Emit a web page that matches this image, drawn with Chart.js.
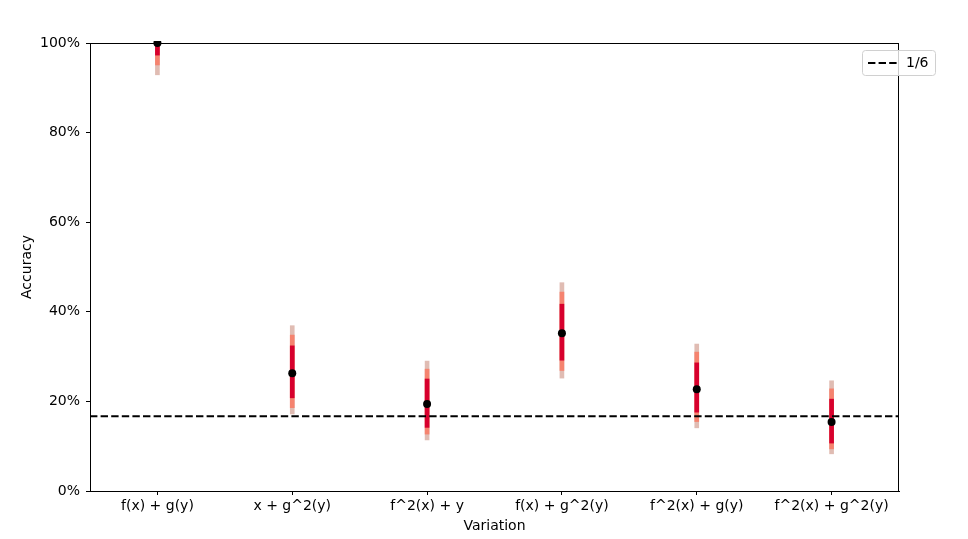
<!DOCTYPE html>
<html>
<head>
<meta charset="utf-8">
<script src="https://cdn.jsdelivr.net/npm/chart.js@4.4.1/dist/chart.umd.min.js"></script>
<style>
    html, body { margin: 0; padding: 0; background: #fff; }
    #wrap { width: 968px; height: 539px; }
</style>
</head>
<body>
<div id="wrap"><canvas id="accChart" width="968" height="539"></canvas></div>
<script>
const variations = ["f(x) + g(y)", "x + g^2(y)", "f^2(x) + y", "f(x) + g^2(y)", "f^2(x) + g(y)", "f^2(x) + g^2(y)"];
const accuracy = [1.0, 0.263, 0.194, 0.352, 0.227, 0.154];
// nested intervals, [low, high]
const innerBand = [[0.973, 1.0], [0.208, 0.324], [0.142, 0.250], [0.292, 0.417], [0.176, 0.286], [0.107, 0.205]];
const middleBand = [[0.951, 1.0], [0.186, 0.348], [0.127, 0.272], [0.269, 0.444], [0.155, 0.310], [0.094, 0.228]];
const outerBand = [[0.929, 1.0], [0.172, 0.369], [0.114, 0.290], [0.252, 0.465], [0.141, 0.328], [0.083, 0.246]];
const yTicks = [0, 0.2, 0.4, 0.6, 0.8, 1.0];
const chanceLevel = 1 / 6;
const chanceLabel = "1/6";

const font = { family: "DejaVu Sans", size: 14 };

// box round plot, dashed chance line, legend
const framePlugin = {
    id: "frame",
    afterDatasetsDraw(chart) {
        const { ctx, chartArea: a, scales } = chart;
        const y = scales.y.getPixelForValue(chanceLevel);
        ctx.save();
        ctx.strokeStyle = "#000";
        ctx.lineWidth = 2;
        ctx.setLineDash([7.4, 3.2]);
        ctx.beginPath();
        ctx.moveTo(a.left, y);
        ctx.lineTo(a.right, y);
        ctx.stroke();
        ctx.restore();
    },
    afterDraw(chart) {
        const { ctx, chartArea: a } = chart;
        ctx.save();
        ctx.strokeStyle = "#000";
        ctx.lineWidth = 1;
        ctx.strokeRect(a.left + 0.5, a.top + 0.5, a.right - a.left - 1, a.bottom - a.top);

        // legend
        const lx = 862, ly = 50, lw = 73, lh = 25;
        ctx.fillStyle = "rgba(255,255,255,0.8)";
        ctx.strokeStyle = "#d0d0d0";
        ctx.beginPath();
        ctx.roundRect(lx + 0.5, ly + 0.5, lw, lh, 3);
        ctx.fill();
        ctx.stroke();
        ctx.strokeStyle = "#000";
        ctx.lineWidth = 2;
        ctx.setLineDash([7.4, 3.2]);
        ctx.beginPath();
        ctx.moveTo(868, ly + 13);
        ctx.lineTo(897, ly + 13);
        ctx.stroke();
        ctx.setLineDash([]);
        ctx.fillStyle = "#000";
        ctx.font = "14px 'DejaVu Sans'";
        ctx.textBaseline = "middle";
        ctx.fillText(chanceLabel, 906, ly + 13);
        ctx.restore();
    }
};

function band(data, color) {
    return {
        type: "bar",
        data: data,
        backgroundColor: color,
        barThickness: 4,
        grouped: false,
        borderSkipped: false,
        borderWidth: 0
    };
}

const ctx = document.getElementById("accChart").getContext("2d");
new Chart(ctx, {
    data: {
        labels: variations,
        datasets: [
            {
                type: "line",
                data: accuracy,
                showLine: false,
                pointRadius: 4,
                pointBackgroundColor: "#000",
                pointBorderWidth: 0,
                clip: 2
            },
            band(innerBand, "#d7002d"),
            band(middleBand, "#f5836f"),
            band(outerBand, "#e0bcb3")
        ]
    },
    plugins: [framePlugin],
    options: {
        responsive: false,
        animation: false,
        layout: { padding: { left: 0, right: 69, top: 43, bottom: 0 } },
        plugins: {
            legend: { display: false },
            tooltip: { enabled: false }
        },
        scales: {
            x: {
                offset: true,
                grid: { display: true, offset: false, drawOnChartArea: false, color: "#000", tickLength: 4 },
                border: { color: "#000" },
                ticks: { color: "#000", font: font, padding: 3, maxRotation: 0 },
                title: { display: true, text: "Variation", color: "#000", font: font, padding: { top: 0, bottom: 4 } },
                afterFit: s => { s.height = 48; }
            },
            y: {
                min: 0,
                max: 1,
                afterBuildTicks: s => { s.ticks = yTicks.map(v => ({ value: v })); },
                grid: { display: true, drawOnChartArea: false, color: "#000", tickLength: 4 },
                border: { color: "#000" },
                ticks: { color: "#000", font: font, padding: 6, callback: v => Math.round(v * 100) + "%" },
                title: { display: true, text: "Accuracy", color: "#000", font: font, padding: { top: 19, bottom: 0 } },
                afterFit: s => { s.width = 90; }
            }
        }
    }
});
</script>
</body>
</html>
